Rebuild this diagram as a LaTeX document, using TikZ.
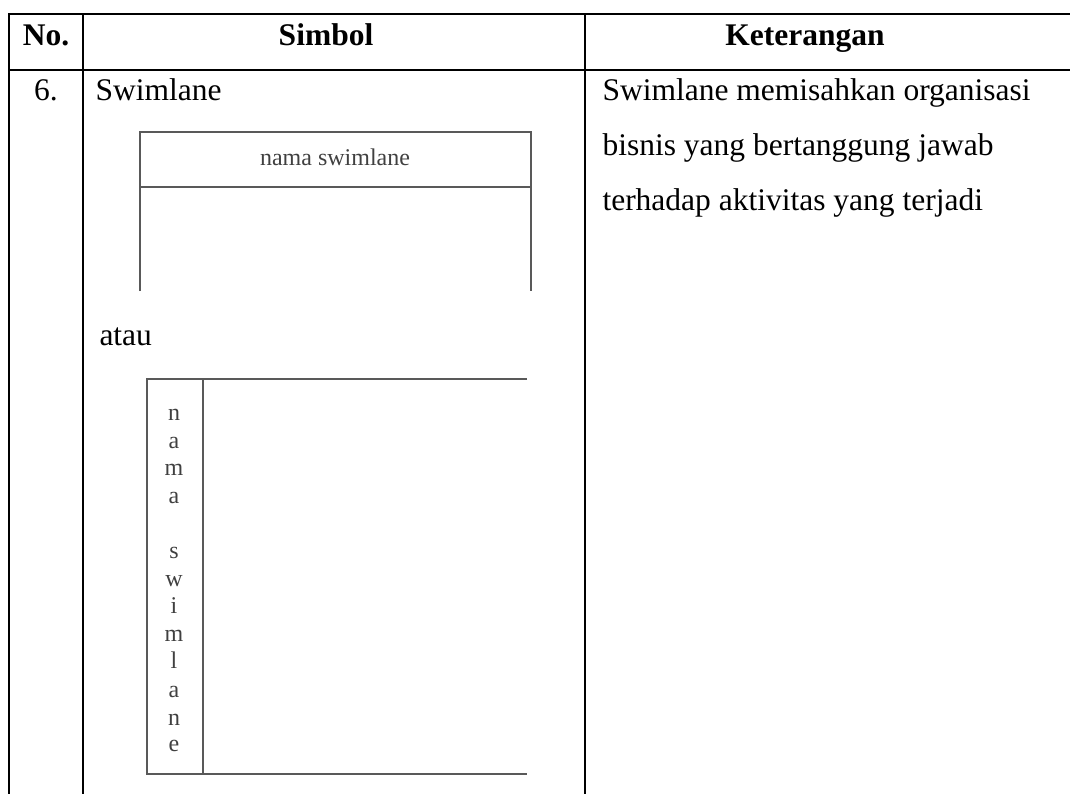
\documentclass[tikz,border=0pt]{standalone}
\usepackage{fontspec}
\setmainfont{Liberation Serif}
\begin{document}
\begin{tikzpicture}[x=0.4pt,y=-0.4pt,
  rule/.style={line width=0.85pt,black},
  lane/.style={line width=0.6pt,black!65},
  txt/.style={inner sep=0pt,font=\fontsize{12.6pt}{14pt}\selectfont},
  head/.style={txt,anchor=base,font=\fontsize{12.6pt}{14pt}\selectfont\bfseries},
  lanetxt/.style={inner sep=0pt,anchor=base,text=black!75,font=\fontsize{9.6pt}{11pt}\selectfont}]
\useasboundingbox (0,0) rectangle (1070,794);

% table rules
\draw[rule] (1070,14) -- (9,14) -- (9,794);
\draw[rule] (9,70) -- (1070,70);
\draw[rule] (83,14) -- (83,794);
\draw[rule] (585,14) -- (585,794);

% header row
\node[head] (hno) at (46,45) {No.};
\node[head] (hsym) at (326,45) {Simbol};
\node[head] (hket) at (805,45) {Keterangan};

% body row
\node[txt,anchor=base] (num) at (46,100) {6.};
\node[txt,anchor=base west] (name) at (95,100) {Swimlane};
\node[txt,anchor=base west] (d1) at (602,100) {Swimlane memisahkan organisasi};
\node[txt,anchor=base west] (d2) at (602,155) {bisnis yang bertanggung jawab};
\node[txt,anchor=base west] (d3) at (602,210) {terhadap aktivitas yang terjadi};
\node[txt,anchor=base west] (alt) at (99,345) {atau};

% horizontal swimlane
\draw[lane] (140,291) -- (140,132) -- (531,132) -- (531,291);
\draw[lane] (140,187) -- (531,187);
\node[lanetxt] (hlane) at (335,165) {nama swimlane};

% vertical swimlane
\draw[lane] (527,379) -- (147,379) -- (147,774) -- (527,774);
\draw[lane] (203,379) -- (203,774);
\foreach \ch/\yy [count=\i] in {n/420,a/448,m/475,a/503,s/558,w/586,i/613,m/641,l/668,a/697,n/725,e/751}
  \node[lanetxt] (v\i) at (174,\yy) {\ch};
\end{tikzpicture}
\end{document}
